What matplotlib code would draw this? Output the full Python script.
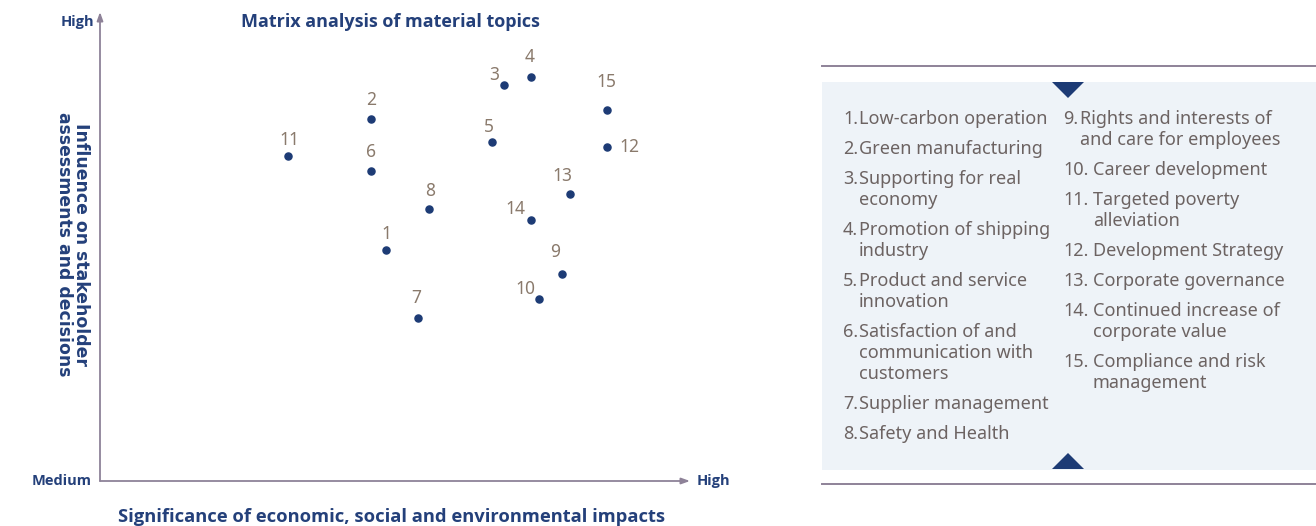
import matplotlib
matplotlib.use("Agg")
import matplotlib.pyplot as plt
from matplotlib.patches import Rectangle, Polygon

# ---- data -------------------------------------------------------------
topic_ids = [str(i) for i in range(1, 16)]
# significance of economic, social and environmental impacts (x)
significance = [4.85, 4.59, 6.85, 7.31, 6.64, 4.59, 5.39, 5.58,
                7.83, 7.44, 3.19, 8.59, 7.97, 7.31, 8.59]
# influence on stakeholder assessments and decisions (y)
influence = [4.93, 7.71, 8.44, 8.61, 7.22, 6.60, 3.48, 5.80,
             4.41, 3.88, 6.93, 7.13, 6.12, 5.57, 7.90]

left_topics = [
    ("1.", ["Low-carbon operation"]),
    ("2.", ["Green manufacturing"]),
    ("3.", ["Supporting for real", "economy"]),
    ("4.", ["Promotion of shipping", "industry"]),
    ("5.", ["Product and service", "innovation"]),
    ("6.", ["Satisfaction of and", "communication with", "customers"]),
    ("7.", ["Supplier management"]),
    ("8.", ["Safety and Health"]),
]
right_topics = [
    ("9.", ["Rights and interests of", "and care for employees"]),
    ("10.", ["Career development"]),
    ("11.", ["Targeted poverty", "alleviation"]),
    ("12.", ["Development Strategy"]),
    ("13.", ["Corporate governance"]),
    ("14.", ["Continued increase of", "corporate value"]),
    ("15.", ["Compliance and risk", "management"]),
]

# label offsets (pixels) for the numbers next to each dot
label_offsets = {
    "1": (0, 16), "2": (0, 19), "3": (-10, 10), "4": (-2, 20), "5": (-3, 15),
    "6": (0, 19), "7": (-2, 20), "8": (1, 18), "9": (-7, 22), "10": (-14, 10),
    "11": (1, 16), "12": (23, 0), "13": (-8, 18), "14": (-16, 11), "15": (0, 28),
}

# ---- style ------------------------------------------------------------
NAVY = "#24407a"
DOT = "#1d3b75"
NUM = "#8a7a6c"
AXIS = "#8e8298"
LIST_TXT = "#6c6362"
PANEL = "#eef3f8"

W, H = 1316, 526
fig = plt.figure(figsize=(W / 100, H / 100), dpi=100)
fig.patch.set_facecolor("white")

# ---- scatter matrix ---------------------------------------------------
x0, x1, y0, y1 = 100, 690, 481, 12
ax = fig.add_axes([x0 / W, 1 - y0 / H, (x1 - x0) / W, (y0 - y1) / H])
ax.set_xlim(0, 10)
ax.set_ylim(0, 10)
ax.set_facecolor("none")
for s in ax.spines.values():
    s.set_visible(False)
ax.set_xticks([])
ax.set_yticks([])

arrow_kw = dict(arrowstyle="-|>,head_length=0.5,head_width=0.18", color=AXIS,
                lw=1.3, shrinkA=0, shrinkB=0)
ax.annotate("", xy=(1, 0), xytext=(0, 0), xycoords="axes fraction",
            arrowprops=arrow_kw)
ax.annotate("", xy=(0, 1), xytext=(0, 0), xycoords="axes fraction",
            arrowprops=arrow_kw)

ax.scatter(significance, influence, s=26, color=DOT, zorder=3)
for tid, xv, yv in zip(topic_ids, significance, influence):
    dx, dy = label_offsets[tid]
    ax.annotate(tid, (xv, yv), xytext=(dx, dy), textcoords="offset pixels",
                ha="center", va="center", fontsize=12.5, color=NUM,
                family="Noto Sans", fontweight="light")

bold_font = dict(family="Open Sans", fontweight="bold", color=NAVY)
ax.text(0.493, 0.979, "Matrix analysis of material topics", transform=ax.transAxes,
        ha="center", va="center", fontsize=13, **bold_font)
ax.text(-0.009, 0.979, "High", transform=ax.transAxes, ha="right", va="center",
        fontsize=10.5, **bold_font)
ax.text(-0.014, 0.0, "Medium", transform=ax.transAxes, ha="right", va="center",
        fontsize=10.5, **bold_font)
ax.text(1.012, 0.0, "High", transform=ax.transAxes, ha="left", va="center",
        fontsize=10.5, **bold_font)
ax.text(0.494, -0.077, "Significance of economic, social and environmental impacts",
        transform=ax.transAxes, ha="center", va="center", fontsize=13.2, **bold_font)
ax.text(-0.047, 0.505, "Influence on stakeholder\nassessments and decisions",
        transform=ax.transAxes, ha="center", va="center", rotation=-90,
        fontsize=12.4, family="DejaVu Sans", fontweight="bold", color=NAVY,
        linespacing=0.92)

# ---- topic list panel --------------------------------------------------
ov = fig.add_axes([0, 0, 1, 1])
ov.set_xlim(0, W)
ov.set_ylim(H, 0)
ov.axis("off")
ov.set_facecolor("none")

ov.add_patch(Rectangle((822, 82), W - 822, 388, facecolor=PANEL, edgecolor="none"))
ov.plot([822, W], [66, 66], color=AXIS, lw=1.4)
ov.plot([822, W], [484, 484], color=AXIS, lw=1.4)
ov.add_patch(Polygon([[1052, 82], [1084, 82], [1068, 98]], closed=True,
                     facecolor=DOT, edgecolor="none"))
ov.add_patch(Polygon([[1052, 469], [1084, 469], [1068, 453]], closed=True,
                     facecolor=DOT, edgecolor="none"))


def draw_column(items, x_num, x_body, y_start, item_gap=30, line_gap=21):
    y = y_start
    for num, lines in items:
        ov.text(x_num, y, num, ha="left", va="center", fontsize=13,
                color=LIST_TXT, family="Noto Sans")
        xb = x_body(num)
        for k, line in enumerate(lines):
            ov.text(xb, y + k * line_gap, line, ha="left", va="center",
                    fontsize=13, color=LIST_TXT, family="Noto Sans")
        y += (len(lines) - 1) * line_gap + item_gap


draw_column(left_topics, 843, lambda n: 859, 119)
draw_column(right_topics, 1063, lambda n: 1080 if len(n) == 2 else 1093, 119)

fig.savefig("out.png", dpi=100, facecolor="white")
